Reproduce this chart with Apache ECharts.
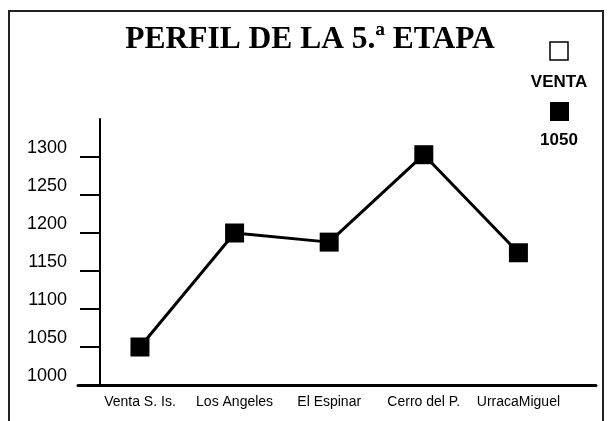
<!DOCTYPE html>
<html>
<head>
<meta charset="utf-8">
<script src="https://cdn.jsdelivr.net/npm/echarts@6/dist/echarts.min.js"></script>
<style>
  html, body { margin: 0; padding: 0; background: #fff; }
  #chart { width: 608px; height: 421px; }
</style>
</head>
<body>
<div id="chart"></div>
<script>
// etapas del perfil y altitud (m)
const stages = ['Venta S. Is.', 'Los Angeles', 'El Espinar', 'Cerro del P.', 'UrracaMiguel']
const altitudes = [1050, 1200, 1188, 1303, 1174]
const yTicks = [1000, 1050, 1100, 1150, 1200, 1250, 1300]

const chart = echarts.init(document.getElementById('chart'))

const option = {
  backgroundColor: '#fff',
  animation: false,
  grid: { left: 78, right: 12, top: 119, bottom: 36 },
  xAxis: {
    type: 'value',
    min: -0.655,
    max: 4.82,
    axisLine: { lineStyle: { color: '#000', width: 3 } },
    axisTick: { show: false },
    splitLine: { show: false },
    axisLabel: {
      customValues: stages.map((s, i) => i),
      formatter: (v) => stages[Math.round(v)],
      color: '#000',
      fontFamily: '"Liberation Sans Narrow", "Liberation Sans", Arial, sans-serif',
      fontSize: 14,
      margin: 10
    }
  },
  yAxis: {
    type: 'value',
    min: 1000,
    max: 1350,
    interval: 50,
    offset: -22,
    axisLine: { show: true, onZero: false, lineStyle: { color: '#000', width: 2 } },
    axisTick: { show: true, length: 20, customValues: yTicks, lineStyle: { color: '#000', width: 2 } },
    splitLine: { show: false },
    axisLabel: {
      customValues: yTicks,
      formatter: (v) => String(v),
      color: '#000',
      fontFamily: '"Liberation Sans", Arial, sans-serif',
      fontSize: 18,
      margin: 33,
      verticalAlign: 'bottom',
      lineHeight: 18
    }
  },
  series: [{
    type: 'line',
    data: altitudes.map((a, i) => [i, a]),
    symbol: 'rect',
    symbolSize: 19,
    itemStyle: { color: '#000' },
    lineStyle: { color: '#000', width: 3 }
  }],
  graphic: [
    {
      type: 'rect',
      shape: { x: 9, y: 11, width: 594, height: 430 },
      style: { fill: 'none', stroke: '#222', lineWidth: 2 }
    },
    {
      type: 'text',
      x: 310, y: 40,
      style: {
        text: 'PERFIL DE LA 5.ª ETAPA',
        fill: '#000',
        font: 'bold 31.5px "Liberation Serif", "Times New Roman", serif',
        align: 'center',
        verticalAlign: 'middle'
      }
    },
    {
      type: 'rect',
      shape: { x: 550, y: 42, width: 18, height: 18 },
      style: { fill: '#fff', stroke: '#000', lineWidth: 1.5 }
    },
    {
      type: 'text',
      x: 559, y: 82,
      style: {
        text: 'VENTA',
        fill: '#000',
        font: 'bold 17px "Liberation Sans", Arial, sans-serif',
        align: 'center',
        verticalAlign: 'middle'
      }
    },
    {
      type: 'rect',
      shape: { x: 550, y: 102, width: 19, height: 19 },
      style: { fill: '#000' }
    },
    {
      type: 'text',
      x: 559, y: 140,
      style: {
        text: '1050',
        fill: '#000',
        font: 'bold 17px "Liberation Sans", Arial, sans-serif',
        align: 'center',
        verticalAlign: 'middle'
      }
    }
  ]
}

chart.setOption(option)
window.addEventListener('resize', () => chart.resize())
</script>
</body>
</html>
